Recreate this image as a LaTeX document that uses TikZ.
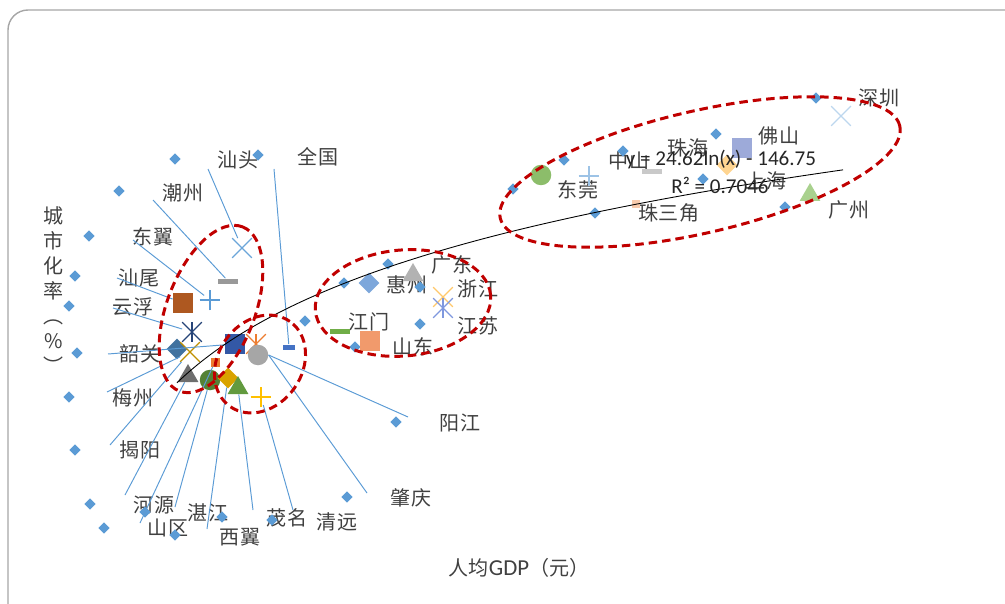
\documentclass[tikz,border=0pt]{standalone}
\usepackage{fontspec}
\newfontfamily\cjk{Noto Sans CJK SC}
\newfontfamily\calib{Carlito}
\usetikzlibrary{positioning, shapes.geometric, shapes.misc}

\definecolor{labelgray}{HTML}{404040}
\definecolor{ptblue}{HTML}{5B9BD5}
\definecolor{ringred}{HTML}{C00000}
\definecolor{framegray}{HTML}{A6A6A6}
\definecolor{brownmk}{HTML}{AE5820}
\definecolor{navymk}{HTML}{264478}
\definecolor{steelmk}{HTML}{41729F}
\definecolor{goldmk}{HTML}{BF9000}
\definecolor{orangemk}{HTML}{ED7D31}
\definecolor{forestmk}{HTML}{548235}
\definecolor{ambermk}{HTML}{D9A300}
\definecolor{grassmk}{HTML}{629A3E}
\definecolor{royalmk}{HTML}{3358A6}
\definecolor{cobaltmk}{HTML}{4472C4}
\definecolor{yellowmk}{HTML}{FFC000}
\definecolor{greenmk}{HTML}{70AD47}
\definecolor{salmonmk}{HTML}{F19A6C}
\definecolor{skymk}{HTML}{7DA7DB}
\definecolor{peachmk}{HTML}{FFC86B}
\definecolor{lilacmk}{HTML}{7F98DE}
\definecolor{mossmk}{HTML}{8CBD6A}
\definecolor{paleblmk}{HTML}{9DC3E6}
\definecolor{pinkmk}{HTML}{F8CBAD}
\definecolor{apricotmk}{HTML}{FFD591}
\definecolor{lavendmk}{HTML}{9DAAD9}
\definecolor{icemk}{HTML}{BDD7EE}
\definecolor{mintmk}{HTML}{A9D18E}

\begin{document}
\begin{tikzpicture}[x=0.2mm, y=-0.2mm,
	city/.style={font=\cjk\fontsize{11.4pt}{13pt}\selectfont, text=labelgray, inner sep=0pt},
	eqn/.style={font=\calib\fontsize{12pt}{14pt}\selectfont, text=black!85, inner sep=0pt},
	smalldia/.style={diamond, fill=ptblue, inner sep=0pt, minimum size=2.3mm},
	bigdia/.style={diamond, inner sep=0pt, minimum size=4.2mm},
	sqmark/.style={rectangle, inner sep=0pt, minimum size=4mm},
	dashmark/.style={rectangle, inner sep=0pt, minimum width=4mm, minimum height=1mm},
	dotmark/.style={circle, inner sep=0pt, minimum size=4.1mm},
	trimark/.style={regular polygon, regular polygon sides=3, inner sep=0pt, minimum size=4.8mm},
	xmark/.style={cross out, draw, inner sep=0pt, minimum size=3.7mm, line width=0.7pt},
	plusmark/.style={cross out, draw, inner sep=0pt, minimum size=2.7mm, line width=0.7pt, rotate=45},
	lead/.style={draw=ptblue, line width=0.55pt},
	circled/.style={draw=ringred, line width=1.7pt, dash pattern=on 1.7mm off 1mm},
	trend/.style={draw=black, line width=0.5pt}]

	\useasboundingbox (0,0) rectangle (1005,603);
	\begin{scope}
	\clip (0,0) rectangle (1005,603);
	\draw[framegray, line width=0.8pt, rounded corners=4mm] (8,10) rectangle (1030,625);
	\end{scope}

	%Labels
	\node[city] (shantou) at (238,160) {汕头};
	\node[city] (quanguo) at (318,157) {全国};
	\node[city] (chaozhou) at (183,193) {潮州};
	\node[city] (dongyi) at (153,237) {东翼};
	\node[city] (shanwei) at (139,278) {汕尾};
	\node[city] (yunfu) at (133,307) {云浮};
	\node[city] (shaoguan) at (140,354) {韶关};
	\node[city] (meizhou) at (133,398) {梅州};
	\node[city] (jieyang) at (140,450) {揭阳};
	\node[city] (heyuan) at (154,505) {河源};
	\node[city] (shanqu) at (168,528) {山区};
	\node[city] (zhanjiang) at (208,513) {湛江};
	\node[city] (xiyi) at (240,537) {西翼};
	\node[city] (maoming) at (287,518) {茂名};
	\node[city] (qingyuan) at (337,522) {清远};
	\node[city] (zhaoqing) at (411,498) {肇庆};
	\node[city] (yangjiang) at (460,423) {阳江};
	\node[city] (huizhou) at (407,285) {惠州};
	\node[city] (guangdong) at (452,265) {广东};
	\node[city] (zhejiang) at (478,289) {浙江};
	\node[city] (jiangsu) at (478,326) {江苏};
	\node[city] (jiangmen) at (369,322) {江门};
	\node[city] (shandong) at (413,347) {山东};
	\node[city] (dongguan) at (578,190) {东莞};
	\node[city] (zhongshan) at (629,161) {中山};
	\node[city] (zhuhai) at (688,148) {珠海};
	\node[city] (foshan) at (779,136) {佛山};
	\node[city] (shanghai) at (766,181) {上海};
	\node[city] (shenzhen) at (879,98) {深圳};
	\node[city] (guangzhou) at (849,210) {广州};
	\node[city] (zhusanjiao) at (669,213) {珠三角};
	\node[city, align=center, font=\cjk\fontsize{11.4pt}{5mm}\selectfont] (ylab) at (54,290) {城\\市\\化\\率\\︵\\\%\\︶};
	\node[inner sep=0pt, text=labelgray] (xlab) at (519,568) {{\cjk\fontsize{11.4pt}{13pt}\selectfont 人均}{\calib\fontsize{13pt}{14pt}\selectfont GDP}{\cjk\fontsize{11.4pt}{13pt}\selectfont （元）}};

	%Data points
	\foreach \px/\py [count=\i] in {175/159, 119/191, 89/236, 75/276, 69/306, 77/353, 69/397, 75/450,
		90/504, 104/528, 258/155, 305/321, 396/422, 347/497, 145/512, 175/535, 222/517, 272/520,
		388/264, 344/283, 420/287, 420/324, 355/347, 816/98, 716/134, 623/151, 564/160, 513/189,
		595/213, 703/179, 785/207}
		\node[smalldia] (d_\i) at (\px,\py) {};

	%Series markers
	\node[xmark, draw=ptblue!90] (m_st) at (242,248) {};
	\node[dashmark, fill=black!40] (m_cz) at (228,281) {};
	\node[plusmark, draw=ptblue] (m_dy) at (210,300) {};
	\node[sqmark, fill=brownmk] (m_sw) at (183,303) {};
	\node[xmark, draw=navymk] (m_yf) at (192,332) {};
	\draw[navymk, line width=0.7pt] (m_yf.north) -- (m_yf.south);
	\node[bigdia, fill=steelmk] (m_sg) at (177,349) {};
	\node[xmark, draw=goldmk] (m_gx) at (190,352) {};
	\node[trimark, fill=black!57] (m_tri) at (188,376) {};
	\node[rectangle, inner sep=0pt, minimum size=1.8mm, fill=orangemk] (m_os) at (215,362) {};
	\node[dotmark, fill=forestmk] (m_gc) at (210,380) {};
	\node[bigdia, fill=ambermk] (m_gd) at (228,378) {};
	\node[trimark, fill=grassmk] (m_gt) at (238,388) {};
	\node[sqmark, fill=royalmk] (m_bs) at (235,344) {};
	\node[xmark, draw=orangemk] (m_oa) at (256,344) {};
	\draw[orangemk, line width=0.7pt] (m_oa.north) -- (m_oa.south);
	\node[dotmark, fill=black!35] (m_gy) at (258,355) {};
	\node[dashmark, minimum width=2.4mm, fill=cobaltmk] (m_qg) at (289,347) {};
	\node[plusmark, draw=yellowmk] (m_yp) at (261,397) {};
	\node[dashmark, fill=greenmk] (m_jm) at (340,331) {};
	\node[sqmark, fill=salmonmk] (m_sd) at (370,341) {};
	\node[bigdia, fill=skymk] (m_hz) at (369,283) {};
	\node[trimark, fill=black!30] (m_lt) at (413,275) {};
	\node[xmark, draw=peachmk] (m_zj) at (443,297) {};
	\node[xmark, draw=lilacmk] (m_js) at (443,308) {};
	\draw[lilacmk, line width=0.7pt] (m_js.north) -- (m_js.south);
	\node[dotmark, fill=mossmk] (m_dg) at (541,175) {};
	\node[plusmark, draw=paleblmk] (m_lp) at (589,176) {};
	\node[dashmark, fill=black!21] (m_ld) at (652,172) {};
	\node[rectangle, inner sep=0pt, minimum size=1.6mm, fill=pinkmk] (m_ss) at (636,204) {};
	\node[bigdia, fill=apricotmk] (m_pd) at (727,165) {};
	\node[sqmark, fill=lavendmk] (m_fs) at (742,148) {};
	\node[xmark, draw=icemk] (m_sz) at (841,116) {};
	\node[trimark, fill=mintmk] (m_gz) at (810,195) {};

	%Leader lines
	\coordinate (t_st) at (208,169);
	\coordinate (t_qg) at (274,169);
	\coordinate (t_cz) at (153,200);
	\coordinate (t_dy) at (133,240);
	\coordinate (t_sw) at (117,278);
	\coordinate (t_yf) at (113,308);
	\coordinate (t_sg) at (108,354);
	\coordinate (t_mz) at (107,392);
	\coordinate (t_jy) at (110,445);
	\coordinate (t_hy) at (125,495);
	\coordinate (t_sq) at (140,523);
	\coordinate (t_zj) at (175,507);
	\coordinate (t_xy) at (207,529);
	\coordinate (t_mm) at (253,510);
	\coordinate (t_qy) at (293,510);
	\coordinate (t_zq) at (367,493);
	\coordinate (t_yj) at (408,417);
	\path[lead]
	(t_st) edge (m_st)
	(t_qg) edge (m_qg)
	(t_cz) edge (m_cz)
	(t_dy) edge (m_dy)
	(t_sw) edge (m_sw)
	(t_yf) edge (m_yf)
	(t_sg) edge (m_bs)
	(t_mz) edge (m_gx)
	(t_jy) edge (m_gx)
	(t_hy) edge (m_tri)
	(t_sq) edge (m_os)
	(t_zj) edge (m_gc)
	(t_xy) edge (m_gd)
	(t_mm) edge (m_gt)
	(t_qy) edge (m_yp)
	(t_zq) edge (m_gy.east)
	(t_yj) edge (m_gy.east);

	%Trend line
	\draw[trend] plot[domain=177:843, samples=90, smooth] (\x, {383-112*(ln(\x-60)-4.76)});

	%Groups
	\draw[circled, rotate around={69:(211,309)}] (211,309) ellipse (17.6mm and 8.8mm);
	\draw[circled, rotate around={55:(260,364)}] (260,364) ellipse (10.4mm and 8.4mm);
	\draw[circled, rotate around={5:(403,303)}] (403,303) ellipse (17.6mm and 10.6mm);
	\draw[circled, rotate around={13:(700,172)}] (700,172) ellipse (41mm and 12.2mm);

	%Trend equation
	\node[eqn] (eq_1) at (721,159) {y = 24.62ln(x) - 146.75};
	\node[eqn] (eq_2) at (720,185) {R² = 0.7046};

\end{tikzpicture}
\end{document}
